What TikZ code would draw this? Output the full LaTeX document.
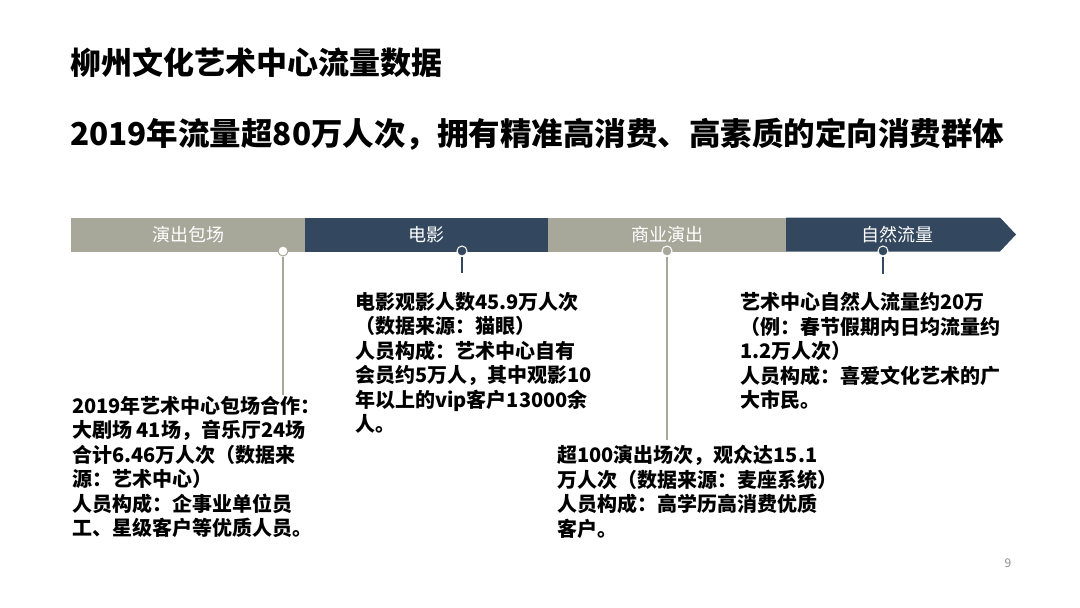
\documentclass[tikz,border=0pt]{standalone}
\usepackage{fontspec}
\newfontfamily\cjk{Noto Sans CJK SC}
\definecolor{barGray}{RGB}{167,167,154}
\definecolor{barNavy}{RGB}{51,72,94}
\definecolor{pageGray}{RGB}{140,140,140}
\begin{document}
\begin{tikzpicture}[x=1pt,y=-1pt,
    seg/.style={inner sep=0pt, minimum height=34pt, anchor=west, text=white,
        font=\cjk\fontsize{18}{20}\selectfont},
    dot/.style={draw=white, line width=1pt, shape=circle, inner sep=0pt, minimum size=10pt},
    stem/.style={line width=1.5pt},
    info/.style={anchor=north west, inner sep=0pt, align=left,
        font=\cjk\bfseries\fontsize{20}{24.5}\selectfont}]
    \useasboundingbox (0,0) rectangle (1080,608);
    % headings
    \node[anchor=base west, inner sep=0pt, font=\cjk\bfseries\fontsize{31}{34}\selectfont] (TA) at (70,74) {柳州文化艺术中心流量数据};
    \node[anchor=base west, inner sep=0pt, font=\cjk\bfseries\fontsize{31.5}{36}\selectfont] (TB) at (70,145) {2019年流量超80万人次，拥有精准高消费、高素质的定向消费群体};

    % timeline bar
    \node[seg, fill=barGray, minimum width=234pt] (SA) at (71,234.5) {演出包场};
    \node[seg, fill=barNavy, minimum width=243pt] (SB) at (305,234.5) {电影};
    \node[seg, fill=barGray, minimum width=238pt] (SC) at (548,234.5) {商业演出};
    \fill[barNavy] (786,217.5) -- (1000,217.5) -- (1016,234.5) -- (1000,251.5) -- (786,251.5) -- cycle;
    \node[seg, anchor=center] (SD) at (897,234.5) {自然流量};

    % markers and stems
    \node[dot, draw=barGray, fill=white] (CA) at (283,251) {};
    \node[dot, fill=barNavy] (CB) at (462,251) {};
    \node[dot, fill=barGray] (CC) at (667,251) {};
    \node[dot, fill=barNavy] (CD) at (883,251) {};
    \coordinate (EA) at (283,395);
    \coordinate (EB) at (462,273);
    \coordinate (EC) at (667,440);
    \coordinate (ED) at (883,274);
    \draw[stem, barGray] (CA)--(EA);
    \draw[stem, barNavy] (CB)--(EB);
    \draw[stem, barGray] (CC)--(EC);
    \draw[stem, barNavy] (CD)--(ED);

    % texts
    \node[info] (IA) at (72,396) {2019年艺术中心包场合作：\\大剧场 41场，音乐厅24场\\合计6.46万人次（数据来\\源：艺术中心）\\人员构成：企事业单位员\\工、星级客户等优质人员。};
    \node[info] (IB) at (355,292) {电影观影人数45.9万人次\\（数据来源：猫眼）\\人员构成：艺术中心自有\\会员约5万人，其中观影10\\年以上的vip客户13000余\\人。};
    \node[info] (IC) at (557,445) {超100演出场次，观众达15.1\\万人次（数据来源：麦座系统）\\人员构成：高学历高消费优质\\客户。};
    \node[info] (ID) at (740,292) {艺术中心自然人流量约20万\\（例：春节假期内日均流量约\\1.2万人次）\\人员构成：喜爱文化艺术的广\\大市民。};

    \node[text=pageGray, font=\cjk\fontsize{12}{14}\selectfont] (PN) at (1008,563) {9};
\end{tikzpicture}
\end{document}
